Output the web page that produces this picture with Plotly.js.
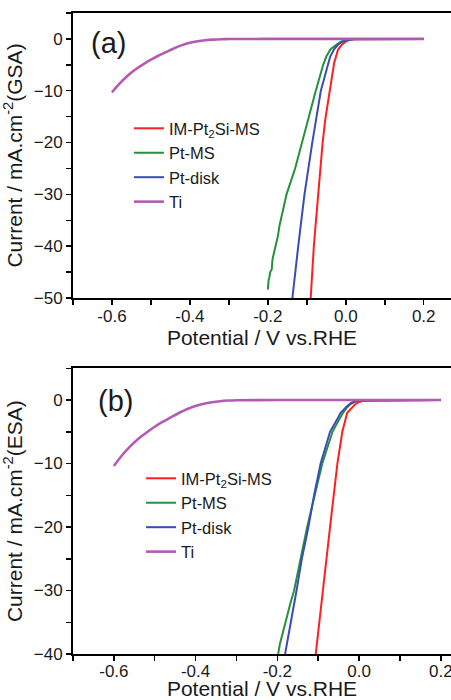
<!DOCTYPE html>
<html>
<head>
<meta charset="utf-8">
<script src="https://cdn.plot.ly/plotly-3.0.1.min.js"></script>
<style>html,body{margin:0;padding:0;background:#fff;overflow:hidden}</style>
</head>
<body>
<div id="chart" style="width:451px;height:700px"></div>
<script>
// ---- Data ----
const seriesNames = ["IM-Pt<sub>2</sub>Si-MS", "Pt-MS", "Pt-disk", "Ti"];
const xTicks = [-0.6, -0.4, -0.2, 0.0, 0.2];
const xTickText = ["-0.6", "-0.4", "-0.2", "0.0", "0.2"];

// Panel (a): GSA
const imX_a = [0.2, 0.1, 0.05, 0.03, 0.02, 0.01, 0.0, -0.01, -0.02, -0.03, -0.04, -0.053, -0.06, -0.071, -0.082, -0.09];
const imY_a = [0, 0, 0, -0.02, -0.08, -0.2, -0.5, -1.1, -2.1, -4.7, -9.2, -15.7, -20.5, -30, -40, -50];
const msX_a = [0.2, 0.05, 0.02, 0.0, -0.01, -0.02, -0.03, -0.039, -0.05, -0.058, -0.077, -0.095, -0.112, -0.13, -0.152, -0.16, -0.165, -0.17, -0.174, -0.18, -0.184, -0.188, -0.19, -0.194, -0.196, -0.198, -0.2];
const msY_a = [0, 0, -0.03, -0.2, -0.45, -0.9, -1.5, -2.0, -3.4, -5, -10, -15, -20, -25, -30, -32.5, -34.5, -36, -38, -40, -41, -42.5, -44.5, -45, -46, -46.5, -48.4];
const pdX_a = [0.2, 0.05, 0.02, 0.0, -0.01, -0.02, -0.03, -0.04, -0.046, -0.064, -0.086, -0.106, -0.122, -0.137];
const pdY_a = [0, 0, -0.05, -0.3, -0.6, -1.1, -2.0, -3.4, -5, -10, -20, -30, -40, -50];
const tiX_a = [-0.6, -0.58, -0.56, -0.54, -0.52, -0.5, -0.48, -0.46, -0.44, -0.42, -0.4, -0.38, -0.36, -0.34, -0.32, -0.3, -0.2, -0.1, 0.0, 0.1, 0.2];
const tiY_a = [-10.3, -8.6, -7.1, -5.9, -4.9, -4.0, -3.2, -2.5, -1.8, -1.2, -0.75, -0.45, -0.25, -0.13, -0.06, -0.03, 0, 0, 0, 0, 0];

// Panel (b): ESA
const imX_b = [0.2, 0.05, 0.025, 0.01, 0.0, -0.01, -0.02, -0.029, -0.041, -0.053, -0.071, -0.088, -0.106];
const imY_b = [0, 0, -0.03, -0.12, -0.3, -0.7, -1.3, -2, -5, -10, -20, -30, -40];
const msX_b = [0.2, 0.05, 0.02, 0.0, -0.008, -0.02, -0.03, -0.039, -0.05, -0.065, -0.09, -0.108, -0.127, -0.143, -0.159, -0.168, -0.174, -0.18, -0.186, -0.19, -0.194, -0.198];
const msY_b = [0, 0, -0.02, -0.08, -0.2, -0.6, -1.2, -2, -3.2, -5, -10, -15, -20, -25, -30, -32, -33.5, -35, -36.5, -37.5, -38.5, -40];
const pdX_b = [0.2, 0.05, 0.02, 0.0, -0.012, -0.02, -0.03, -0.045, -0.055, -0.071, -0.094, -0.11, -0.124, -0.14, -0.153, -0.16, -0.167, -0.172, -0.176, -0.181];
const pdY_b = [0, 0, -0.02, -0.1, -0.25, -0.5, -1.0, -2, -3.2, -5, -10, -15, -20, -25, -30, -32.5, -35, -37, -38.5, -40];
const tiX_b = [-0.6, -0.58, -0.56, -0.54, -0.52, -0.5, -0.48, -0.46, -0.44, -0.42, -0.4, -0.38, -0.36, -0.34, -0.32, -0.3, -0.2, -0.1, 0.0, 0.1, 0.2];
const tiY_b = [-10.4, -8.7, -7.3, -6.1, -5.1, -4.2, -3.4, -2.7, -2.0, -1.4, -0.95, -0.6, -0.35, -0.18, -0.08, -0.03, 0, 0, 0, 0, 0];

const colors = ["#ff1f1f", "#23923a", "#3a4cb6", "#b45ab4"];

const FONT = "Liberation Sans, Arial, sans-serif";

function tr(x, y, i, xa, ya, leg) {
  return {
    x: x, y: y, type: "scatter", mode: "lines",
    name: seriesNames[i], xaxis: xa, yaxis: ya, legend: leg,
    line: i === 3 ? {color: colors[i], width: 2.6, shape: "spline", smoothing: 0.6}
                  : {color: colors[i], width: 2},
    showlegend: true, hoverinfo: "skip"
  };
}

const data = [
  tr(imX_a, imY_a, 0, "x", "y", "legend"),
  tr(msX_a, msY_a, 1, "x", "y", "legend"),
  tr(pdX_a, pdY_a, 2, "x", "y", "legend"),
  tr(tiX_a, tiY_a, 3, "x", "y", "legend"),
  tr(imX_b, imY_b, 0, "x2", "y2", "legend2"),
  tr(msX_b, msY_b, 1, "x2", "y2", "legend2"),
  tr(pdX_b, pdY_b, 2, "x2", "y2", "legend2"),
  tr(tiX_b, tiY_b, 3, "x2", "y2", "legend2")
];

function xAxis(range, anchor, standoff) {
  return {
    range: range, anchor: anchor, domain: [0, 1],
    tickvals: xTicks, ticktext: xTickText,
    ticks: "outside", ticklen: 5, tickwidth: 1.5, tickcolor: "#000",
    minor: {dtick: 0.1, tick0: 0, ticks: "outside", ticklen: 5, tickwidth: 1.5, tickcolor: "#000"},
    showline: true, linecolor: "#000", linewidth: 2, mirror: true,
    showgrid: false, zeroline: false,
    ticklabeloverflow: "allow", ticklabelstandoff: standoff,
    tickfont: {family: FONT, size: 17, color: "#1a1a1a"},
    title: {text: "Potential / V vs.RHE", font: {family: FONT, size: 21, color: "#1a1a1a"}, standoff: 4}
  };
}
function yAxis(range, anchor, domain, label, tv) {
  return {
    range: range, anchor: anchor, domain: domain,
    tickvals: tv,
    ticks: "outside", ticklen: 5, tickwidth: 1.5, tickcolor: "#000",
    minor: {dtick: 5, tick0: 0, ticks: "outside", ticklen: 5, tickwidth: 1.5, tickcolor: "#000"},
    showline: true, linecolor: "#000", linewidth: 2, mirror: false,
    showgrid: false, zeroline: false,
    tickfont: {family: FONT, size: 17, color: "#1a1a1a"},
    title: {text: label, font: {family: FONT, size: 21, color: "#1a1a1a"}, standoff: 6}
  };
}

const layout = {
  width: 451, height: 700,
  margin: {l: 73, r: 0, t: 13, b: 46},
  paper_bgcolor: "#fff", plot_bgcolor: "#fff",
  font: {family: FONT, color: "#1a1a1a"},
  xaxis: xAxis([-0.7, 0.27], "y", -3),
  yaxis: yAxis([-50, 5], "x", [0.5554, 1], "Current / mA.cm<sup>-2</sup>(GSA)", [0, -10, -20, -30, -40, -50]),
  xaxis2: xAxis([-0.7, 0.225], "y2", -4),
  yaxis2: yAxis([-40, 5], "x2", [0, 0.4457], "Current / mA.cm<sup>-2</sup>(ESA)", [0, -10, -20, -30, -40]),
  legend: {x: 0.148, y: 0.847, xanchor: "left", yanchor: "top", bgcolor: "rgba(0,0,0,0)",
           font: {family: FONT, size: 16.5, color: "#1a1a1a"}, tracegroupgap: 0},
  legend2: {x: 0.18, y: 0.301, xanchor: "left", yanchor: "top", bgcolor: "rgba(0,0,0,0)",
           font: {family: FONT, size: 16.5, color: "#1a1a1a"}, tracegroupgap: 0},
  annotations: [
    {text: "(a)", x: -0.608, y: -0.73, xref: "x", yref: "y", showarrow: false,
     xanchor: "center", yanchor: "middle", font: {family: FONT, size: 29, color: "#1a1a1a"}},
    {text: "(b)", x: -0.595, y: -0.15, xref: "x2", yref: "y2", showarrow: false,
     xanchor: "center", yanchor: "middle", font: {family: FONT, size: 29, color: "#1a1a1a"}}
  ],
  showlegend: true
};

Plotly.newPlot("chart", data, layout, {displayModeBar: false, staticPlot: true});
</script>
</body>
</html>
